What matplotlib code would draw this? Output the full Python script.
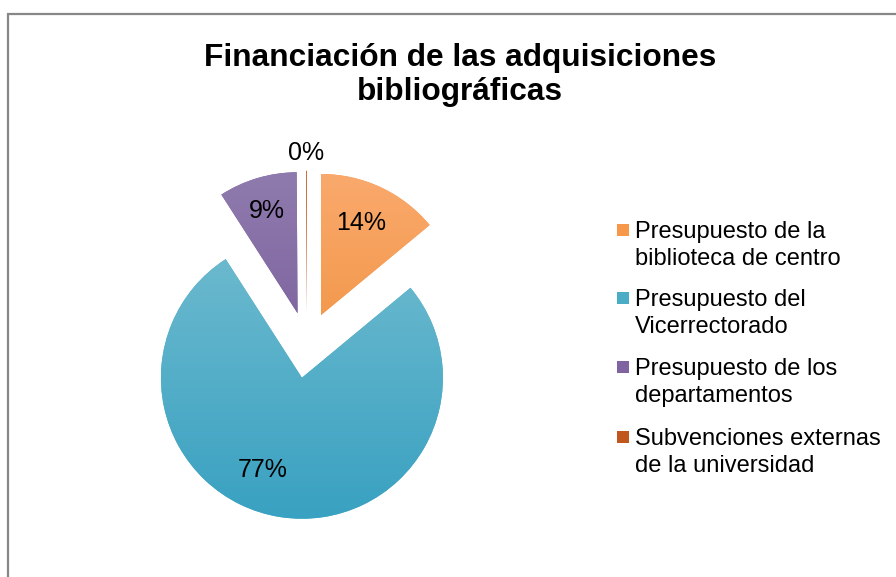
import numpy as np
import matplotlib.pyplot as plt
from matplotlib.patches import Rectangle
from matplotlib.colors import LinearSegmentedColormap

plt.rcParams['font.family'] = ['Liberation Sans', 'DejaVu Sans']

# datos
categorias = ['Presupuesto de la\nbiblioteca de centro',
              'Presupuesto del\nVicerrectorado',
              'Presupuesto de los\ndepartamentos',
              'Subvenciones externas\nde la universidad']
valores = [14, 77, 9, 0.1]
titulo = 'Financiación de las adquisiciones\nbibliográficas'

# colores (arriba, abajo) del degradado
col_top = ['#FAA96D', '#6FBBCF', '#8F7BAE', '#D0703A']
col_bot = ['#EC8A2F', '#39A1C1', '#735394', '#B8501A']
col_leg = ['#F7974A', '#4BACC6', '#8064A2', '#C0581E']

W, H = 896, 577
R = 141.0
cx, cy = 307.0, 345.0  # centro en pixeles (y hacia abajo)

fig = plt.figure(figsize=(W / 100, H / 100), dpi=100)
ax = fig.add_axes([0, 0, 1, 1])
ax.axis('off')

wedges, texts, autotexts = ax.pie(valores, explode=[0.235] * 4, startangle=90,
                                  counterclock=False, colors=col_leg,
                                  autopct='%1.0f%%', pctdistance=0.72,
                                  textprops={'fontsize': 18, 'color': 'black'},
                                  wedgeprops={'linewidth': 0})

# degradado vertical en cada porcion
for w, c1, c2 in zip(wedges, col_top, col_bot):
    cmap = LinearSegmentedColormap.from_list('g', [c1, c2])
    x0, y0 = w.center
    grad = np.linspace(0, 1, 256).reshape(-1, 1)
    im = ax.imshow(grad, cmap=cmap, aspect='auto',
                   extent=[x0 - 1, x0 + 1, y0 - 1, y0 + 1], origin='upper',
                   zorder=w.get_zorder() + 0.1)
    im.set_clip_path(w)
ax.set_xlim(-cx / R, (W - cx) / R)
ax.set_ylim(-(H - cy) / R, cy / R)

# ajuste de las etiquetas de porcentaje
dist = [0.71, 0.71, 0.76, 1.13]
dang = [1.5, -14, 0, 0]
for w, t, d, a in zip(wedges, autotexts, dist, dang):
    ang = np.deg2rad((w.theta1 + w.theta2) / 2 + a)
    x0, y0 = w.center
    t.set_position((x0 + d * np.cos(ang), y0 + d * np.sin(ang)))
    t.set_zorder(10)

# titulo
fig.text(460 / W, 1 - 75 / H, titulo, ha='center', va='center',
         fontsize=22.8, fontweight='bold', linespacing=1.2)

# leyenda
ys = [230, 298, 367, 437]
for y, lab, c in zip(ys, categorias, col_leg):
    fig.patches.append(Rectangle((617 / W, 1 - (y + 6) / H), 12 / W, 12 / H,
                                 transform=fig.transFigure, facecolor=c,
                                 edgecolor='none'))
    fig.text(635 / W, 1 - (y - 9) / H, lab, ha='left', va='top',
             fontsize=17, linespacing=1.3)

# marco del grafico
fig.patches.append(Rectangle((7.5 / W, -0.1), 1.2, 1 - 13.5 / H + 0.1,
                             transform=fig.transFigure, facecolor='none',
                             edgecolor='#878787', linewidth=1.6))

fig.savefig('out.png', dpi=100)
